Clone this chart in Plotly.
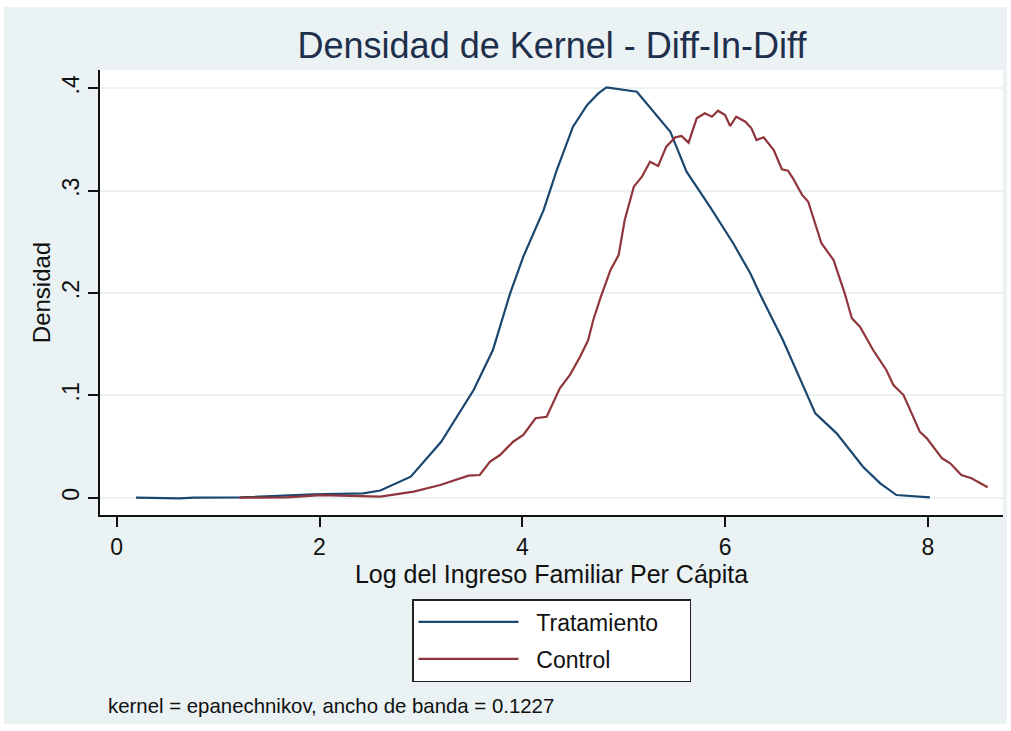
import plotly.graph_objects as go

# --- data ---
trat_x = [0.19, 0.62, 0.76, 1.22, 1.94, 2.43, 2.60, 2.90, 3.20, 3.52, 3.71, 3.88, 4.01,
          4.21, 4.34, 4.50, 4.64, 4.75, 4.83, 5.13, 5.46, 5.62, 5.85, 6.08, 6.25, 6.34,
          6.57, 6.89, 7.10, 7.36, 7.53, 7.69, 8.02]
trat_y = [0.0, -0.0006, 0.0, 0.0003, 0.0033, 0.0043, 0.0070, 0.0205, 0.0547, 0.1052, 0.1443,
          0.1997, 0.2355, 0.281, 0.320, 0.3625, 0.3837, 0.395, 0.401, 0.3967, 0.3576, 0.3185,
          0.2843, 0.2486, 0.219, 0.1997, 0.154, 0.0824, 0.0629, 0.0303, 0.014, 0.0026, 0.0004]

ctrl_x = [1.21, 1.68, 2.01, 2.43, 2.60, 2.93, 3.19, 3.47, 3.58, 3.68, 3.78, 3.91, 4.01,
          4.13, 4.24, 4.37, 4.47, 4.57, 4.65, 4.70, 4.77, 4.87, 4.95, 5.01, 5.10, 5.18,
          5.26, 5.34, 5.42, 5.51, 5.57, 5.64, 5.72, 5.80, 5.87, 5.93, 6.00, 6.05, 6.11,
          6.20, 6.26, 6.31, 6.38, 6.48, 6.56, 6.62, 6.67, 6.76, 6.82, 6.95, 7.07, 7.18,
          7.25, 7.33, 7.46, 7.59, 7.66, 7.76, 7.92, 7.99, 8.14, 8.22, 8.33, 8.43, 8.59]
ctrl_y = [0.0, 0.0004, 0.0026, 0.0017, 0.0010, 0.0059, 0.0124, 0.0215, 0.0222, 0.035, 0.0417,
          0.0547, 0.0613, 0.0776, 0.0791, 0.1069, 0.120, 0.1378, 0.154, 0.1736, 0.195, 0.2225,
          0.237, 0.2713, 0.3039, 0.3136, 0.3283, 0.3241, 0.343, 0.3521, 0.3534, 0.3469, 0.3707,
          0.3756, 0.3723, 0.3781, 0.3739, 0.3632, 0.3723, 0.3674, 0.3609, 0.3495, 0.3521,
          0.3397, 0.3209, 0.3195, 0.312, 0.2958, 0.2892, 0.2486, 0.2322, 0.1997, 0.1753,
          0.1671, 0.1443, 0.1248, 0.1101, 0.1003, 0.0645, 0.058, 0.0385, 0.0336, 0.0222,
          0.019, 0.0102]

y_ticks = [0, 0.1, 0.2, 0.3, 0.4]
y_labels = ["0", ".1", ".2", ".3", ".4"]
x_ticks = [0, 2, 4, 6, 8]
series_names = ["Tratamiento", "Control"]

FONT = "Liberation Sans, Arial, sans-serif"
PANEL = "#EAF2F3"
NB = "\u00a0"

fig = go.Figure()
fig.add_trace(go.Scatter(x=trat_x, y=trat_y, mode="lines",
                         name=NB * 2 + series_names[0] + NB * 4,
                         legendgroup="t", line=dict(color="#1A476F", width=2.2)))
fig.add_trace(go.Scatter(x=ctrl_x, y=ctrl_y, mode="lines",
                         name=NB * 2 + series_names[1],
                         legendgroup="c", line=dict(color="#90353B", width=2.2)))

W, H = 1011, 731
ml, mr, mt, mb = 100, 8, 70, 216
pw, ph = W - ml - mr, H - mt - mb

def px_to_paper_x(px):
    return (px - ml) / pw

def px_to_paper_y(py):
    return (H - mb - py) / ph

shapes = [
    dict(type="rect", xref="paper", yref="paper", layer="below",
         x0=px_to_paper_x(4), x1=px_to_paper_x(1007),
         y0=px_to_paper_y(724), y1=px_to_paper_y(7),
         fillcolor=PANEL, line=dict(width=0)),
    dict(type="rect", xref="paper", yref="paper", layer="below",
         x0=0, x1=1, y0=0, y1=1, fillcolor="white", line=dict(width=0)),
]

fig.update_layout(
    width=W, height=H,
    margin=dict(l=ml, r=mr, t=mt, b=mb, autoexpand=False),
    paper_bgcolor="white",
    plot_bgcolor="white",
    font=dict(family=FONT, color="#111111", size=23),
    shapes=shapes,
    title=dict(text="Densidad de Kernel - Diff-In-Diff", x=px_to_paper_x(552), xref="paper",
               xanchor="center", y=1 - 45 / H, yanchor="middle",
               font=dict(family=FONT, size=36, color="#1E2F4C")),
    xaxis=dict(range=[-0.165, 8.741], tickvals=x_ticks, showgrid=False, zeroline=False,
               showline=True, linecolor="#111111", linewidth=2,
               ticks="outside", ticklen=10, tickwidth=2, tickcolor="#111111",
               tickfont=dict(size=23),
               title=dict(text="Log del Ingreso Familiar Per Cápita", font=dict(size=25),
                          standoff=1)),
    yaxis=dict(range=[-0.0169, 0.4179], tickvals=y_ticks, ticktext=y_labels,
               tickangle=-90, showgrid=True, gridcolor=PANEL, gridwidth=2, zeroline=False,
               showline=True, linecolor="#111111", linewidth=2,
               ticks="outside", ticklen=10, tickwidth=2, tickcolor="#111111",
               tickfont=dict(size=23),
               title=dict(text="Densidad", font=dict(size=24), standoff=0)),
    legend=dict(x=px_to_paper_x(412), xanchor="left", y=px_to_paper_y(599), yanchor="top",
                bgcolor="white", bordercolor="#222222", borderwidth=1.5,
                font=dict(size=23), itemwidth=100, tracegroupgap=4),
    showlegend=True,
    annotations=[dict(text="kernel = epanechnikov, ancho de banda = 0.1227",
                      xref="paper", yref="paper", x=px_to_paper_x(106), y=px_to_paper_y(706),
                      xanchor="left", yanchor="middle", showarrow=False,
                      font=dict(size=20.4, family=FONT, color="#111111"))],
)

fig.write_html("out.html", config={"displayModeBar": False},
               post_script="document.body.style.margin='0';")
